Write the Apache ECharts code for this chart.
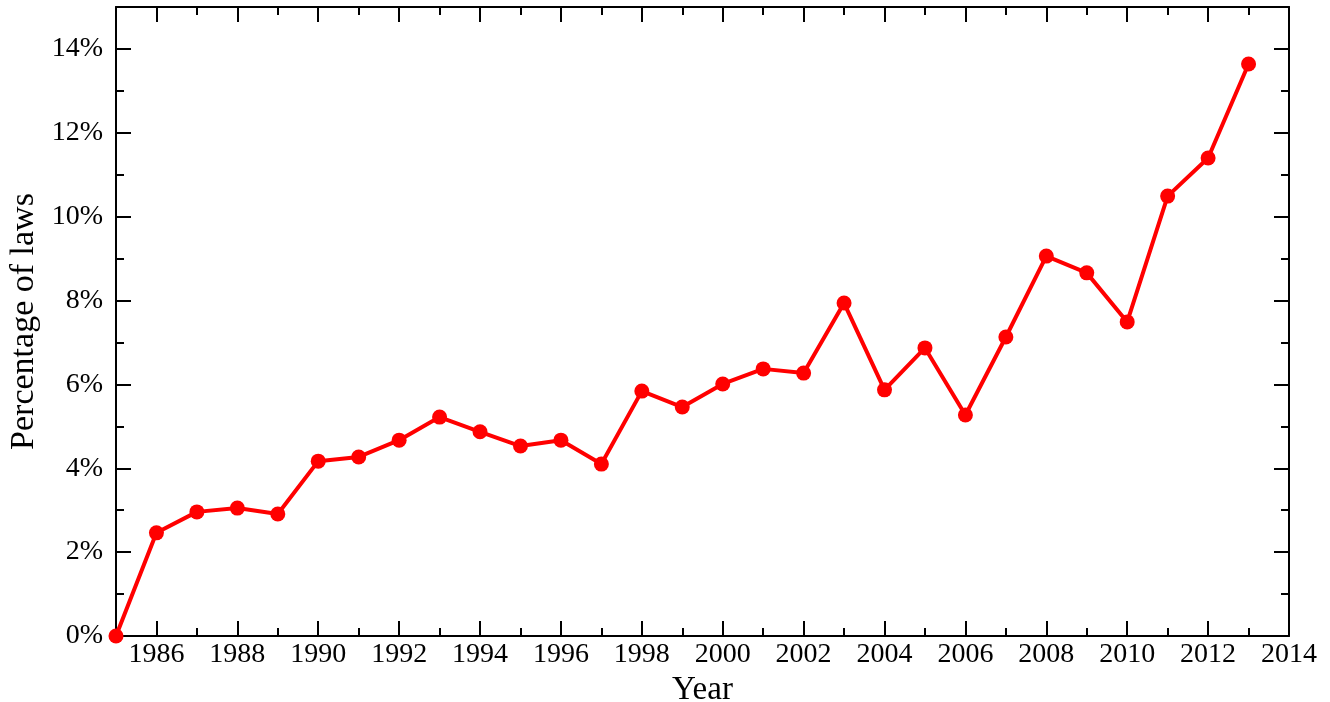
<!DOCTYPE html>
<html>
<head>
<meta charset="utf-8">
<script src="https://cdn.jsdelivr.net/npm/echarts@6/dist/echarts.min.js"></script>
<style>html,body{margin:0;padding:0;background:#fff}#c{width:1330px;height:702px}</style>
</head>
<body>
<div id="c"></div>
<script>
const years = [1985,1986,1987,1988,1989,1990,1991,1992,1993,1994,1995,1996,1997,1998,1999,2000,2001,2002,2003,2004,2005,2006,2007,2008,2009,2010,2011,2012,2013];
const percentLaws = [0,2.46,2.96,3.05,2.91,4.17,4.27,4.67,5.22,4.87,4.53,4.67,4.10,5.84,5.46,6.01,6.37,6.27,7.94,5.87,6.87,5.27,7.13,9.06,8.66,7.49,10.49,11.40,13.64];
const xMajorTicks = [1986,1988,1990,1992,1994,1996,1998,2000,2002,2004,2006,2008,2010,2012,2014];
const xMinorTicks = [1985,1987,1989,1991,1993,1995,1997,1999,2001,2003,2005,2007,2009,2011,2013];
const yMajorTicks = [0,2,4,6,8,10,12,14];
const yMinorTicks = [1,3,5,7,9,11,13];

const FONT = '"Liberation Serif","DejaVu Serif",serif';
const lineStyle = {color:'#000', width:2};
function xAx(pos, ticks, len, main){
  return {
    type:'value', min:1985, max:2014, interval:1, position:pos,
    axisLine:{show:main, onZero:false, lineStyle},
    axisTick:{show:true, inside:true, length:len, customValues:ticks, lineStyle},
    axisLabel:{show: main && pos==='bottom', customValues:xMajorTicks, margin:5, color:'#000', fontFamily:FONT, fontSize:28, formatter: v => String(v)},
    splitLine:{show:false},
    name: (main && pos==='bottom') ? 'Year' : '',
    nameLocation:'middle', nameGap:32,
    nameTextStyle:{color:'#000', fontFamily:FONT, fontSize:33}
  };
}
function yAx(pos, ticks, len, main){
  return {
    type:'value', min:0, max:15, interval:1, position:pos,
    axisLine:{show:main, onZero:false, lineStyle},
    axisTick:{show:true, inside:true, length:len, customValues:ticks, lineStyle},
    axisLabel:{show: main && pos==='left', customValues:yMajorTicks, margin:13, color:'#000', fontFamily:FONT, fontSize:28, formatter: v => v + '%'},
    splitLine:{show:false},
    name: (main && pos==='left') ? 'Percentage of laws' : '',
    nameLocation:'middle', nameGap:70,
    nameTextStyle:{color:'#000', fontFamily:FONT, fontSize:34}
  };
}
const chart = echarts.init(document.getElementById('c'), null, {renderer:'canvas'});
chart.setOption({
  animation:false,
  backgroundColor:'#fff',
  grid:{left:116, right:41, top:7, bottom:66, containLabel:false, outerBoundsMode:'none'},
  xAxis:[xAx('bottom', xMajorTicks, 15, true), xAx('bottom', xMinorTicks, 8, false), xAx('top', xMajorTicks, 15, true), xAx('top', xMinorTicks, 8, false)],
  yAxis:[yAx('left', yMajorTicks, 15, true), yAx('left', yMinorTicks, 8, false), yAx('right', yMajorTicks, 15, true), yAx('right', yMinorTicks, 8, false)],
  series:[{
    type:'line', xAxisIndex:0, yAxisIndex:0,
    data: years.map((y,i)=>[y, percentLaws[i]]),
    symbol:'circle', symbolSize:15,
    lineStyle:{color:'#ff0000', width:4},
    itemStyle:{color:'#ff0000'},
    clip:false
  }]
});
</script>
</body>
</html>
